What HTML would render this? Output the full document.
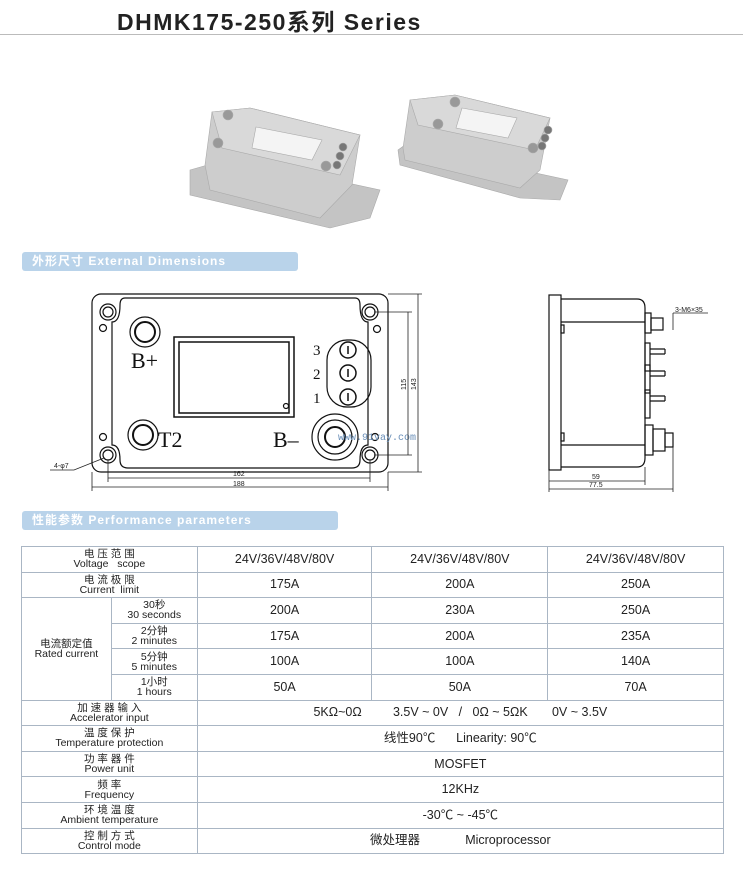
<!DOCTYPE html>
<html><head><meta charset="utf-8"><style>
body{margin:0;width:743px;height:869px;background:#fff;overflow:hidden;position:relative;font-family:"Liberation Sans","Noto Sans CJK SC",sans-serif}
.t{position:absolute;left:117px;top:3px;font-size:23px;letter-spacing:1.5px;font-weight:bold;color:#222}
.hr{position:absolute;left:0;top:34px;width:743px;height:1px;background:#bbb}
.lab{position:absolute;background:#b9d3ea;color:#fff;font-weight:bold;font-size:12px;letter-spacing:1px;line-height:19px;padding-left:10px;border-radius:3px}
table{position:absolute;left:21px;top:546px;border-collapse:collapse;width:703px}
td{border:1px solid #aab6c4;text-align:center;font-size:12px;color:#222;height:24.6px;padding:0;line-height:11px}
td.h{font-size:10.5px;line-height:10px}
td.v{font-size:12.5px}
</style></head><body>
<div class="t">DHMK175-250系列 Series</div>
<div class="hr"></div>
<svg width="743" height="869" style="position:absolute;left:0;top:0">
<g stroke="#aaa" stroke-width="0.6">
<polygon points="190,170 232,158 380,190 370,218 330,228 190,195" fill="#c4c4c4"/>
<polygon points="205,165 212,112 250,108 360,135 352,185 320,218 210,190" fill="#cdcdcd"/>
<polygon points="212,112 250,108 360,135 340,175 222,148" fill="#d9d9d9"/>
<polygon points="256,127 322,140 312,160 252,148" fill="#f4f4f4"/>
<circle cx="228" cy="115" r="5" fill="#999"/><circle cx="218" cy="143" r="5" fill="#999"/><circle cx="326" cy="166" r="5" fill="#999"/>
<circle cx="343" cy="147" r="4" fill="#777"/><circle cx="340" cy="156" r="4" fill="#777"/><circle cx="337" cy="165" r="4" fill="#777"/>
<polygon points="398,150 405,145 568,180 560,200 520,198 400,165" fill="#c4c4c4"/>
<polygon points="403,148 410,100 455,95 550,118 540,170 520,188 405,160" fill="#cdcdcd"/>
<polygon points="410,100 455,95 550,118 535,150 418,125" fill="#d9d9d9"/>
<polygon points="462,108 517,118 508,138 456,128" fill="#f4f4f4"/>
<circle cx="455" cy="102" r="5" fill="#999"/><circle cx="438" cy="124" r="5" fill="#999"/><circle cx="533" cy="148" r="5" fill="#999"/>
<circle cx="548" cy="130" r="4" fill="#777"/><circle cx="545" cy="138" r="4" fill="#777"/><circle cx="542" cy="146" r="4" fill="#777"/>
</g>
<g fill="none" stroke="#111" stroke-width="1.2">
<rect x="92" y="294" width="296" height="178" rx="9"/>
<path d="M125,298 H355 Q360,298 360,305 Q360,322 368,322 V445 Q360,445 360,460 Q360,468 352,468 H128 Q120,468 120,460 Q120,445 112,445 V322 Q120,322 120,305 Q120,298 125,298Z"/>
<circle cx="108" cy="312" r="8"/><circle cx="108" cy="312" r="5"/>
<circle cx="370" cy="312" r="8"/><circle cx="370" cy="312" r="5"/>
<circle cx="108" cy="455" r="8"/><circle cx="108" cy="455" r="5"/>
<circle cx="370" cy="455" r="8"/><circle cx="370" cy="455" r="5"/>
<circle cx="103" cy="328" r="3.5"/><circle cx="377" cy="329" r="3.5"/><circle cx="103" cy="437" r="3.5"/><circle cx="375" cy="437" r="3.5"/>
<circle cx="145" cy="332" r="15"/><circle cx="145" cy="332" r="10" stroke-width="2"/>
<rect x="174" y="337" width="120" height="80" stroke-width="1.5"/><rect x="179" y="342" width="110" height="71" stroke-width="1.5"/>
<circle cx="286" cy="406" r="2.5"/>
<rect x="327" y="340" width="44" height="67" rx="20"/>
<circle cx="348" cy="350" r="8" stroke-width="1.5"/><circle cx="348" cy="373" r="8" stroke-width="1.5"/><circle cx="348" cy="397" r="8" stroke-width="1.5"/>
<circle cx="143" cy="435" r="15"/><circle cx="143" cy="435" r="10" stroke-width="2"/>
<circle cx="335" cy="437" r="23"/><circle cx="335" cy="437" r="17"/><circle cx="335" cy="437" r="10" stroke-width="2"/>
</g>
<g stroke="#111" stroke-width="1.5"><line x1="348" y1="346" x2="348" y2="354"/><line x1="348" y1="369" x2="348" y2="377"/><line x1="348" y1="393" x2="348" y2="401"/></g>
<g font-family="Liberation Serif,serif" fill="#111">
<text x="131" y="368" font-size="22">B+</text>
<text x="158" y="447" font-size="22">T2</text>
<text x="273" y="447" font-size="22">B–</text>
<text x="313" y="355" font-size="15">3</text><text x="313" y="379" font-size="15">2</text><text x="313" y="403" font-size="15">1</text>
</g>
<text x="338" y="440" font-size="10" font-family="Liberation Mono,monospace" fill="#6a8fb8">www.91vay.com</text>
<g stroke="#222" stroke-width="0.8" fill="none">
<line x1="108" y1="460" x2="108" y2="482"/><line x1="370" y1="460" x2="370" y2="482"/>
<line x1="108" y1="478" x2="370" y2="478"/>
<line x1="92" y1="472" x2="92" y2="491"/><line x1="388" y1="472" x2="388" y2="491"/>
<line x1="92" y1="487" x2="388" y2="487"/>
<line x1="374" y1="312" x2="412" y2="312"/><line x1="374" y1="455" x2="412" y2="455"/>
<line x1="408" y1="312" x2="408" y2="455"/>
<line x1="388" y1="294" x2="422" y2="294"/><line x1="388" y1="472" x2="422" y2="472"/>
<line x1="418" y1="294" x2="418" y2="472"/>
<polyline points="50,470 74,470 104,458"/>
</g>
<g font-size="7" fill="#222"><text x="233" y="476">162</text><text x="233" y="486">188</text>
<text x="54" y="468">4-φ7</text>
<text transform="translate(406,390) rotate(-90)">115</text><text transform="translate(416,390) rotate(-90)">143</text></g>
<g fill="none" stroke="#111" stroke-width="1.2">
<rect x="549" y="295" width="12" height="175"/>
<path d="M561,299 H637 Q645,299 645,308 V458 Q645,467 637,467 H561"/>
<line x1="561" y1="322" x2="645" y2="322"/><line x1="561" y1="445" x2="645" y2="445"/>
<rect x="561" y="325" width="3" height="8"/><rect x="561" y="433" width="3" height="8"/>
<rect x="645" y="313" width="6" height="20"/><rect x="651" y="318" width="12" height="12"/>
<rect x="645" y="343" width="5" height="28"/><rect x="645" y="365" width="5" height="28"/><rect x="645" y="390" width="5" height="28"/>
<path d="M650,349 H665 M650,354 H665 M665,349 V354"/>
<path d="M650,371 H665 M650,376 H665 M665,371 V376"/>
<path d="M650,396 H665 M650,401 H665 M665,396 V401"/>
<rect x="645" y="425" width="8" height="30"/><rect x="653" y="429" width="12" height="22"/><rect x="665" y="433" width="8" height="14"/>
</g>
<g stroke="#222" stroke-width="0.8" fill="none">
<line x1="549" y1="470" x2="549" y2="492"/><line x1="645" y1="467" x2="645" y2="485"/><line x1="673" y1="447" x2="673" y2="492"/>
<line x1="549" y1="481" x2="645" y2="481"/><line x1="549" y1="489" x2="673" y2="489"/>
<line x1="673" y1="313" x2="708" y2="313"/><line x1="673" y1="313" x2="673" y2="330"/>
</g>
<g font-size="7" fill="#222"><text x="592" y="479">59</text><text x="589" y="487">77.5</text><text x="675" y="312">3-M6×35</text></g>
</svg>
<div class="lab" style="left:22px;top:252px;width:266px">外形尺寸 External Dimensions</div>
<div class="lab" style="left:22px;top:511px;width:306px">性能参数 Performance parameters</div>
<table>
<colgroup><col style="width:90px"><col style="width:86px"><col style="width:175px"><col style="width:176px"><col style="width:176px"></colgroup>
<tr><td class="h" colspan="2">电 压 范 围<br>Voltage &nbsp; scope</td><td class="v">24V/36V/48V/80V</td><td class="v">24V/36V/48V/80V</td><td class="v">24V/36V/48V/80V</td></tr>
<tr><td class="h" colspan="2">电 流 极 限<br>Current &nbsp;limit</td><td class="v">175A</td><td class="v">200A</td><td class="v">250A</td></tr>
<tr><td class="h" rowspan="4">电流额定值<br>Rated current</td><td class="h">30秒<br>30 seconds</td><td class="v">200A</td><td class="v">230A</td><td class="v">250A</td></tr>
<tr><td class="h">2分钟<br>2 minutes</td><td class="v">175A</td><td class="v">200A</td><td class="v">235A</td></tr>
<tr><td class="h">5分钟<br>5 minutes</td><td class="v">100A</td><td class="v">100A</td><td class="v">140A</td></tr>
<tr><td class="h">1小时<br>1 hours</td><td class="v">50A</td><td class="v">50A</td><td class="v">70A</td></tr>
<tr><td class="h" colspan="2">加 速 器 输 入<br>Accelerator input</td><td class="v" colspan="3">5KΩ~0Ω &nbsp; &nbsp; &nbsp; &nbsp; 3.5V ~ 0V &nbsp; / &nbsp; 0Ω ~ 5ΩK &nbsp; &nbsp; &nbsp; 0V ~ 3.5V</td></tr>
<tr><td class="h" colspan="2">温 度 保 护<br>Temperature protection</td><td class="v" colspan="3">线性90℃ &nbsp; &nbsp; &nbsp;Linearity: 90℃</td></tr>
<tr><td class="h" colspan="2">功 率 器 件<br>Power unit</td><td class="v" colspan="3">MOSFET</td></tr>
<tr><td class="h" colspan="2">频 率<br>Frequency</td><td class="v" colspan="3">12KHz</td></tr>
<tr><td class="h" colspan="2">环 境 温 度<br>Ambient temperature</td><td class="v" colspan="3">-30℃ ~ -45℃</td></tr>
<tr><td class="h" colspan="2">控 制 方 式<br>Control mode</td><td class="v" colspan="3">微处理器 &nbsp; &nbsp; &nbsp; &nbsp; &nbsp; &nbsp; Microprocessor</td></tr>
</table>
</body></html>
